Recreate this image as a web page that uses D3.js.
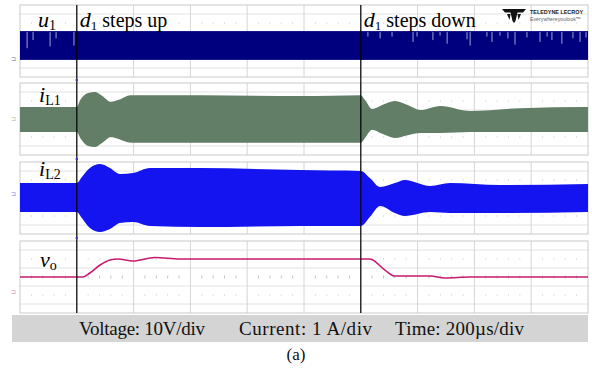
<!DOCTYPE html>
<html>
<head>
<meta charset="utf-8">
<script src="https://cdn.jsdelivr.net/npm/d3@7"></script>
<style>
  html, body { margin: 0; padding: 0; background: #fff; }
  svg { display: block; }
</style>
</head>
<body>
<div id="chart"></div>
<script>
// scope settings
const timeDomain = [0, 2000];          // µs, 10 div x 200 µs
const stepUpTime = 200;
const stepDownTime = 1200;

// u1: gate pulse band (V) and switching glitches
const u1High = 31;
const u1Low = -1;
const u1SpikeTime = [25, 46, 106, 127, 190, 1225, 1268, 1310, 1384, 1398, 1454, 1479, 1504, 1574, 1585, 1644, 1662,
  1690, 1718, 1743, 1785, 1831, 1856, 1873, 1908, 1947, 1972, 1993];
const u1SpikeDrop = [19, 10, 17, 8, 16, 6, 8, 6, 12, 6, 10, 5, 14, 9, 16, 6, 12, 5, 8, 15, 7, 12, 6, 10, 14, 8, 12, 7];

// iL1 ripple envelope (A)
const iL1Time  = [0, 200, 212, 240, 265, 290, 320, 345, 390, 460, 640, 990, 1200, 1215, 1240, 1275, 1320, 1365, 1410, 1480, 1585, 1760, 2000];
const iL1Upper = [1.33, 1.33, 2.1, 2.9, 3.0, 2.55, 1.9, 2.1, 2.65, 2.65, 2.65, 2.55, 2.65, 2.1, 1.1, 1.55, 2.0, 1.55, 1.0, 1.45, 0.9, 1.2, 1.33];
const iL1Lower = [-1.45, -1.45, -2.1, -3.0, -3.1, -2.65, -2.0, -2.2, -2.65, -2.65, -2.65, -2.65, -2.65, -2.1, -1.2, -1.65, -2.1, -1.8, -1.55, -1.55, -1.45, -1.45, -1.45];

// iL2 ripple envelope (A)
const iL2Time  = [0, 200, 218, 246, 282, 317, 352, 398, 458, 634, 986, 1200, 1232, 1268, 1320, 1355, 1444, 1514, 1690, 2000];
const iL2Upper = [1.22, 1.22, 1.89, 2.89, 3.33, 2.89, 2.22, 2.33, 2.89, 2.89, 2.67, 2.56, 1.78, 0.78, 1.22, 1.56, 0.89, 1.22, 1.0, 1.11];
const iL2Lower = [-2.0, -2.0, -2.67, -3.78, -4.22, -3.89, -3.22, -3.11, -3.56, -3.67, -3.56, -3.56, -2.56, -1.33, -2.11, -2.44, -2.0, -2.11, -2.11, -2.0];

// vo output voltage (V)
const voTime  = [0, 222, 246, 282, 317, 345, 398, 475, 563, 810, 1200, 1232, 1285, 1320, 1444, 1496, 1585, 2000];
const voValue = [16.7, 16.7, 21.1, 30, 35.6, 36.7, 34.4, 38.3, 36.7, 36.7, 36.7, 36.7, 24.4, 17.8, 17.8, 15.6, 16.7, 16.7];

const footerTexts = ["Voltage: 10V/div", "Current: 1\u2009A/div", "Time: 200\u00b5s/div"];

const width = 592, height = 369;
const left = 20, right = 588, panelH = 72;

const svg = d3.select("#chart").append("svg")
  .attr("width", width)
  .attr("height", height)
  .style("font-family", "'Liberation Serif', 'Times New Roman', serif");

const x = d3.scaleLinear().domain(timeDomain).range([left, right]);

// one panel per trace: top edge and vertical range (8 div)
const panels = [
  { name: "u1",  top: 5,   domain: [-20, 60],     color: "#00007f" },
  { name: "iL1", top: 83,  domain: [-4, 4],       color: "#627e66" },
  { name: "iL2", top: 162, domain: [-4.44, 3.56], color: "#1414f0" },
  { name: "vo",  top: 241, domain: [-23.3, 56.7], color: "#c41c6e" }
];
panels.forEach(p => {
  p.y = d3.scaleLinear().domain(p.domain).range([p.top + panelH, p.top]);
});

// grid
panels.forEach(p => {
  const g = svg.append("g");
  const divY = d3.range(1, 8).map(i => p.top + i * panelH / 8);
  g.selectAll("line.h")
    .data(divY.filter((d, i) => i % 2 === 0))
    .join("line")
    .attr("x1", left).attr("x2", right)
    .attr("y1", d => d).attr("y2", d => d)
    .attr("stroke", "#e2e2e2").attr("stroke-width", 1);
  g.selectAll("line.v")
    .data(d3.range(1, 10))
    .join("line")
    .attr("x1", d => x(d * 200)).attr("x2", d => x(d * 200))
    .attr("y1", p.top).attr("y2", p.top + panelH)
    .attr("stroke", "#d6d6d6").attr("stroke-width", 1);
  // minor dots along rows 2, 4, 6
  const minor = d3.range(1, 50).filter(i => i % 5 !== 0).map(i => x(i * 40));
  [divY[1], divY[3], divY[5]].forEach((yy, k) => {
    g.selectAll(null)
      .data(minor)
      .join("rect")
      .attr("x", d => d - 0.5)
      .attr("y", yy - (k === 1 ? 1.5 : 0.5))
      .attr("width", 1)
      .attr("height", k === 1 ? 3 : 1)
      .attr("fill", "#c4c4c4");
  });
  g.append("rect")
    .attr("x", left).attr("y", p.top)
    .attr("width", right - left).attr("height", panelH)
    .attr("fill", "none").attr("stroke", "#cacaca").attr("stroke-width", 1);
  // ground marker
  g.append("text")
    .attr("x", 11).attr("y", p.y(0) + 2)
    .attr("font-size", 6).attr("fill", p.color).attr("opacity", 0.6)
    .attr("font-family", "DejaVu Sans")
    .text("\u2290");
});

// u1 band
const pU = panels[0];
svg.append("rect")
  .attr("x", x(0)).attr("width", x(2000) - x(0))
  .attr("y", pU.y(u1High)).attr("height", pU.y(u1Low) - pU.y(u1High))
  .attr("fill", pU.color);
svg.append("g").selectAll("line")
  .data(u1SpikeTime.map((t, i) => ({ t, drop: u1SpikeDrop[i] })))
  .join("line")
  .attr("x1", d => x(d.t)).attr("x2", d => x(d.t))
  .attr("y1", pU.y(u1High) + 1).attr("y2", d => pU.y(u1High - d.drop))
  .attr("stroke", "#c8cce8").attr("stroke-width", 0.8);

// ripple envelopes
function envelope(p, time, upper, lower) {
  const rows = time.map((t, i) => ({ t, hi: upper[i], lo: lower[i] }));
  const area = d3.area()
    .x(d => x(d.t))
    .y0(d => p.y(d.lo))
    .y1(d => p.y(d.hi))
    .curve(d3.curveMonotoneX);
  svg.append("path")
    .datum(rows)
    .attr("d", area)
    .attr("fill", p.color);
}
envelope(panels[1], iL1Time, iL1Upper, iL1Lower);
envelope(panels[2], iL2Time, iL2Upper, iL2Lower);

// vo
const pV = panels[3];
svg.append("path")
  .datum(voTime.map((t, i) => ({ t, v: voValue[i] })))
  .attr("d", d3.line().x(d => x(d.t)).y(d => pV.y(d.v)).curve(d3.curveMonotoneX))
  .attr("fill", "none")
  .attr("stroke", pV.color)
  .attr("stroke-width", 1.6);

// step markers
svg.append("g").selectAll("line")
  .data([stepUpTime, stepDownTime])
  .join("line")
  .attr("x1", d => x(d)).attr("x2", d => x(d))
  .attr("y1", 5).attr("y2", 313)
  .attr("stroke", "#000").attr("stroke-width", 1.2);
// trigger dots between panels
svg.append("g").selectAll("circle")
  .data([80, 159, 238])
  .join("circle")
  .attr("cx", x(stepUpTime)).attr("cy", d => d).attr("r", 1.3)
  .attr("fill", "#3a3ad0");

// trace labels
function label(xp, yp, main, sub) {
  const t = svg.append("text").attr("x", xp).attr("y", yp).attr("font-size", 22).attr("fill", "#000");
  t.append("tspan").attr("font-style", "italic").text(main);
  t.append("tspan").attr("font-size", 14).attr("dy", 3).text(sub);
  return t;
}
label(38, 27, "u", "1");
label(39, 102, "i", "L1");
label(39, 176, "i", "L2");
label(40, 267, "v", "o");

function stepLabel(xp, text) {
  const t = svg.append("text").attr("x", xp).attr("y", 27).attr("font-size", 20).attr("fill", "#000");
  t.append("tspan").attr("font-style", "italic").attr("font-size", 22).text("d");
  t.append("tspan").attr("font-size", 13).attr("dy", 3).text("1");
  t.append("tspan").attr("dy", -3).text(" " + text);
}
stepLabel(x(stepUpTime) + 3, "steps up");
stepLabel(x(stepDownTime) + 3, "steps down");

// logo
const logo = svg.append("g").attr("transform", "translate(514,14)");
logo.append("path")
  .attr("d", "M-12,-5 L12,-5 L9,-1.5 L3.5,-1.5 L1.5,7 L0,9 L-1.5,7 L-3.5,-1.5 L-9,-1.5 Z M-7,0 L-3.5,0 L-4.5,6 Z M7,0 L3.5,0 L4.5,6 Z")
  .attr("fill", "#111");
svg.append("text").attr("x", 530).attr("y", 14)
  .attr("font-family", "Liberation Sans").attr("font-size", 5.4).attr("font-weight", "bold").attr("fill", "#222")
  .attr("textLength", 53).attr("lengthAdjust", "spacingAndGlyphs")
  .text("TELEDYNE LECROY");
svg.append("text").attr("x", 530).attr("y", 21)
  .attr("font-family", "Liberation Sans").attr("font-size", 5.4).attr("fill", "#666")
  .attr("textLength", 51).attr("lengthAdjust", "spacingAndGlyphs")
  .text("Everywhereyoulook\u2122");

// footer
svg.append("rect")
  .attr("x", 12).attr("y", 315).attr("width", 576).attr("height", 27)
  .attr("fill", "#d4d4d4");
const footerX = [79, 239, 395];
const footerW = [126, 133, 129];
svg.append("g").selectAll("text")
  .data(footerTexts)
  .join("text")
  .attr("x", (d, i) => footerX[i])
  .attr("y", 335)
  .attr("font-size", 19)
  .attr("fill", "#111")
  .attr("textLength", (d, i) => footerW[i])
  .attr("lengthAdjust", "spacing")
  .text(d => d);

svg.append("text")
  .attr("x", 296).attr("y", 360)
  .attr("text-anchor", "middle")
  .attr("font-size", 17)
  .attr("fill", "#111")
  .text("(a)");
</script>
</body>
</html>
